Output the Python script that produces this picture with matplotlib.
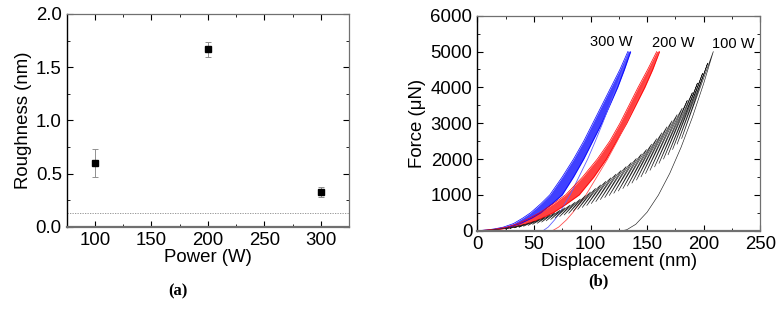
import matplotlib
matplotlib.use("Agg")
import matplotlib.pyplot as plt
from matplotlib.ticker import MultipleLocator

plt.rcParams['font.family'] = ['Liberation Sans', 'DejaVu Sans']

#### (a) roughness data
power = [100, 200, 300]
rough = [0.60, 1.67, 0.33]
rough_err = [0.13, 0.07, 0.045]
rough_ref = 0.13

#### (b) load-displacement data
band_F = [0, 20, 50, 100, 200, 350, 500, 750, 1000, 1500, 2000, 2500, 3000, 3500,
          4000, 4500, 5000]
blue_left = [0, 8, 15, 23, 32, 40, 47, 56, 64, 75, 85, 94, 102, 110, 118, 126, 133]
blue_right = [0, 10, 19, 28, 38, 48, 56, 66, 75, 85, 94, 102, 110, 117, 124, 130, 135.5]
red_left = [0, 9, 17, 26, 36, 46, 55, 67, 78, 93, 106, 117, 126, 134, 142, 150.5, 158.5]
red_right = [0, 12, 22, 33, 45, 57, 67, 79, 90, 103, 114, 123, 132, 140, 148, 155, 161]

unload_F = [5000, 4000, 3000, 2500, 2000, 1000, 500, 300, 100, 20, 0, 0]
blue_unload_h = [134, 122.8, 110.7, 104.3, 97.5, 82, 72.7, 68.2, 62.6, 59, 58, 56]
red_unload_h = [160.5, 146.6, 131.6, 123.6, 115.1, 96, 84.2, 78.7, 71.8, 67.5, 66, 64]

# cyclic test (100 W): peak of each cycle and the point where its unload stops
peak_h = [28, 32.5, 37, 41.5, 46, 50.5, 55, 59.5, 64, 68.5, 73, 77.5, 82, 86.5, 91,
          95.5, 100, 104.5, 109, 113.5, 118, 122.5, 127, 131.5, 136, 140.5, 145,
          149.5, 154, 158.5, 163, 167.5, 172, 176.5, 181, 185.5, 190, 194.5, 199,
          203.5, 208.5]
peak_F = [85, 115, 145, 179, 222, 266, 320, 374, 436, 499, 568, 640, 716, 797, 882,
          981, 1080, 1179, 1278, 1377, 1476, 1578, 1681, 1788, 1900, 2014, 2140, 2266,
          2416, 2569, 2731, 2898, 3066, 3237, 3418, 3634, 3850, 4120, 4390, 4676, 5000]
tip_h = [24.8, 28.8, 32.8, 36.8, 40.8, 44.8, 48.8, 52.8, 56.8, 60.8, 64.8, 68.7,
         72.7, 76.7, 80.7, 84.7, 88.7, 92.7, 96.7, 100.7, 104.7, 108.7, 112.6, 116.6,
         120.6, 124.6, 128.6, 132.6, 136.6, 140.6, 144.6, 148.6, 152.6, 156.6, 160.5,
         164.5, 168.5, 172.5, 176.5, 180.5]
tip_F = [47, 63, 80, 98, 122, 146, 176, 206, 240, 274, 312, 352, 394, 438, 485, 540,
         594, 648, 703, 757, 812, 868, 925, 983, 1045, 1108, 1177, 1246, 1329, 1413,
         1502, 1594, 1686, 1780, 1880, 1999, 2118, 2266, 2415, 2572]
reload_gap = 1.3   # reload curve runs a little to the right of the unload curve
black_start_h = [0, 5, 12, 20]
black_start_F = [0, 3, 18, 45]
black_unload_h = [200, 190, 180, 170, 160, 150, 140, 132, 128, 125]
black_unload_F = [4110, 3165, 2327, 1600, 995, 517, 179, 26, 0, 0]

labels_b = ['300 W', '200 W', '100 W']
label_pos = [(118.7, 5258), (173.1, 5230), (226.1, 5210)]

fig = plt.figure(figsize=(7.83, 3.11), dpi=100)
ax1 = fig.add_axes([0.0852, 0.2701, 0.3605, 0.6849])
ax2 = fig.add_axes([0.6096, 0.2582, 0.3614, 0.6913])

fs = 13.4

def style(ax):
    ax.tick_params(which='both', direction='in', top=True, right=True, labelsize=fs,
                   pad=3.5)
    ax.tick_params(which='major', length=4, width=0.8)
    ax.tick_params(which='minor', length=2, width=0.6)
    for s in ['top', 'right']:
        ax.spines[s].set_color('#707070')
        ax.spines[s].set_linewidth(0.9)
    ax.spines['left'].set_color('black')
    ax.spines['left'].set_linewidth(1.0)
    ax.spines['bottom'].set_color('#707070')
    ax.spines['bottom'].set_linewidth(1.6)

#### panel (a)
ax1.axhline(rough_ref, color='#888888', lw=0.6, ls=(0, (1.5, 1.5)))
ax1.errorbar(power, rough, yerr=rough_err, fmt='s', color='black', ms=5,
             ecolor='#909090', elinewidth=0.7, capsize=2.5, capthick=0.7)
ax1.set_xlim(75, 325)
ax1.set_ylim(0, 2.0)
ax1.xaxis.set_major_locator(MultipleLocator(50))
ax1.xaxis.set_minor_locator(MultipleLocator(25))
ax1.yaxis.set_major_locator(MultipleLocator(0.5))
ax1.yaxis.set_minor_locator(MultipleLocator(0.25))
ax1.set_xlabel('Power (W)', fontsize=fs, labelpad=0)
ax1.set_ylabel('Roughness (nm)', fontsize=fs, labelpad=3)
style(ax1)

#### panel (b)
ax2.fill_betweenx(band_F, blue_left, blue_right, color='#0000ff', alpha=0.75, lw=0)
ax2.plot(blue_left, band_F, color='#0000ff', lw=0.5)
ax2.plot(blue_right, band_F, color='#0000ff', lw=0.5)
ax2.plot(blue_unload_h, unload_F, color='#6060ff', lw=0.6)

ax2.fill_betweenx(band_F, red_left, red_right, color='#ff0000', alpha=0.75, lw=0)
ax2.plot(red_left, band_F, color='#ff0000', lw=0.5)
ax2.plot(red_right, band_F, color='#ff0000', lw=0.5)
ax2.plot(red_unload_h, unload_F, color='#ff5050', lw=0.6)

bh = list(black_start_h)
bF = list(black_start_F)
for i in range(len(peak_h)):
    bh.append(peak_h[i])
    bF.append(peak_F[i])
    if i < len(tip_h):
        bh += [tip_h[i], peak_h[i] + reload_gap]
        bF += [tip_F[i], peak_F[i]]
bh += black_unload_h
bF += black_unload_F
ax2.plot(bh, bF, color='#202020', lw=0.45)

for t, (x, y) in zip(labels_b, label_pos):
    ax2.text(x, y, t, fontsize=10.5, ha='center', va='center')

ax2.set_xlim(0, 250)
ax2.set_ylim(0, 6000)
ax2.xaxis.set_major_locator(MultipleLocator(50))
ax2.xaxis.set_minor_locator(MultipleLocator(25))
ax2.yaxis.set_major_locator(MultipleLocator(1000))
ax2.yaxis.set_minor_locator(MultipleLocator(500))
ax2.set_xlabel('Displacement (nm)', fontsize=fs, labelpad=0)
ax2.set_ylabel('Force (\u03bcN)', fontsize=fs, labelpad=3)
style(ax2)

fig.text(177.5 / 783, 1 - 291.7 / 311, '(a)', fontsize=12, family='Liberation Serif',
         fontweight='bold', ha='center', va='center')
fig.text(598.3 / 783, 1 - 281.7 / 311, '(b)', fontsize=12, family='Liberation Serif',
         fontweight='bold', ha='center', va='center')

fig.savefig('out.png', dpi=100)
